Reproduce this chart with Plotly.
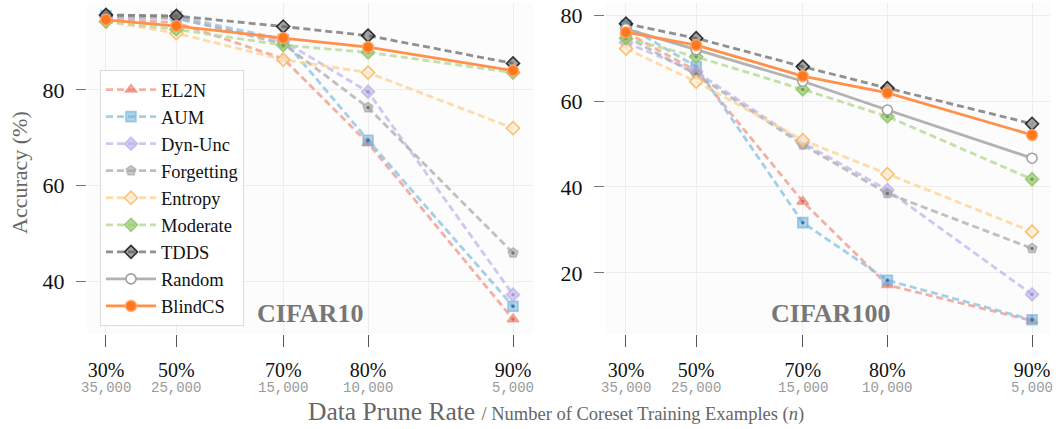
import math
import plotly.graph_objects as go

rates = ["30%", "50%", "70%", "80%", "90%"]
n_examples = [35000, 25000, 15000, 10000, 5000]
n_labels = ["35,000", "25,000", "15,000", "10,000", "5,000"]

methods = ["EL2N", "AUM", "Dyn-Unc", "Forgetting", "Entropy", "Moderate", "TDDS", "Random", "BlindCS"]

cifar10 = {
    "EL2N":       [94.8, 94.0, 86.5, 68.9, 32.2],
    "AUM":        [95.5, 95.3, 90.5, 69.5, 34.9],
    "Dyn-Unc":    [95.2, 94.8, 90.2, 79.6, 37.3],
    "Forgetting": [95.3, 95.0, 89.6, 76.3, 46.0],
    "Entropy":    [94.3, 91.8, 86.3, 83.6, 72.0],
    "Moderate":   [94.2, 92.6, 89.3, 87.8, 83.6],
    "TDDS":       [95.6, 95.4, 93.2, 91.3, 85.5],
    "BlindCS":    [94.6, 93.3, 90.8, 88.9, 84.0],
}
cifar100 = {
    "EL2N":       [76.0, 67.0, 36.6, 17.2, 8.9],
    "AUM":        [77.6, 68.0, 31.7, 18.3, 9.1],
    "Dyn-Unc":    [73.6, 66.8, 50.3, 39.3, 15.0],
    "Forgetting": [75.0, 66.2, 49.8, 38.5, 25.7],
    "Entropy":    [72.2, 64.5, 50.9, 43.0, 29.6],
    "Moderate":   [74.6, 70.3, 62.7, 56.4, 41.8],
    "TDDS":       [78.0, 74.6, 68.0, 63.0, 54.7],
    "Random":     [76.8, 71.9, 64.6, 57.9, 46.7],
    "BlindCS":    [76.0, 73.0, 65.8, 61.9, 52.1],
}

# line colour, symbol, dash, marker fill, marker edge, inner dot colour
styles = {
    "EL2N":       dict(line="rgba(240,150,135,0.75)", symbol="triangle-up", dash="7px,4px",
                       fill="rgba(236,120,105,0.55)", edge="rgba(236,120,105,0.6)", dot="rgba(220,90,80,0.8)", size=10),
    "AUM":        dict(line="rgba(140,195,225,0.8)", symbol="square", dash="7px,4px",
                       fill="rgba(110,175,220,0.55)", edge="rgba(110,175,220,0.6)", dot="rgba(40,110,170,0.9)", size=10),
    "Dyn-Unc":    dict(line="rgba(195,185,235,0.8)", symbol="diamond", dash="7px,4px",
                       fill="rgba(185,172,232,0.6)", edge="rgba(185,172,232,0.7)", dot="rgba(150,135,210,0.8)", size=10),
    "Forgetting": dict(line="rgba(175,175,175,0.8)", symbol="pentagon", dash="7px,4px",
                       fill="rgba(165,165,165,0.6)", edge="rgba(165,165,165,0.7)", dot="rgba(110,110,110,0.9)", size=10),
    "Entropy":    dict(line="rgba(253,210,150,0.8)", symbol="diamond", dash="7px,4px",
                       fill="rgba(255,240,215,0.7)", edge="rgba(250,185,100,0.9)", dot=None, size=10),
    "Moderate":   dict(line="rgba(185,218,150,0.85)", symbol="diamond", dash="7px,4px",
                       fill="rgba(150,200,110,0.7)", edge="rgba(140,195,100,0.8)", dot="rgba(100,160,60,0.9)", size=10),
    "TDDS":       dict(line="rgba(125,125,125,0.85)", symbol="diamond", dash="7px,4px",
                       fill="rgba(90,90,90,0.55)", edge="rgba(30,30,30,0.9)", dot=None, size=10),
    "Random":     dict(line="rgba(178,178,178,1)", symbol="circle", dash="solid",
                       fill="rgba(255,255,255,1)", edge="rgba(160,160,160,1)", dot=None, size=10),
    "BlindCS":    dict(line="rgba(255,145,75,1)", symbol="circle", dash="solid",
                       fill="rgba(255,120,30,1)", edge="rgba(255,170,110,0.8)", dot=None, size=11),
}

fig = go.Figure()

for ax_i, data in enumerate([cifar10, cifar100]):
    xa = "x" if ax_i == 0 else "x2"
    ya = "y" if ax_i == 0 else "y2"
    for m in methods:
        st = styles[m]
        vals = data.get(m)
        show = ax_i == 0
        xs = n_examples if vals is not None else [None]
        ys = vals if vals is not None else [None]
        fig.add_trace(go.Scatter(
            x=xs, y=ys, name=m, mode="lines+markers", xaxis=xa, yaxis=ya,
            line=dict(color=st["line"], width=2.8, dash=st["dash"]),
            marker=dict(symbol=st["symbol"], size=st["size"], color=st["fill"],
                        line=dict(color=st["edge"], width=1.6)),
            showlegend=show, legendgroup=m))
        if vals is not None and st["dot"] is not None:
            fig.add_trace(go.Scatter(
                x=n_examples, y=vals, mode="markers", xaxis=xa, yaxis=ya,
                marker=dict(symbol="circle", size=3.5, color=st["dot"]),
                showlegend=False, hoverinfo="skip", legendgroup=m))

L, R, T, B = 87, 6, 3, 95
W, H = 1056, 429
pw = W - L - R
ph = H - T - B


def px_x(x):
    return (x - L) / pw


def px_y(y):
    return (H - B - y) / ph


xcommon = dict(type="log", tickvals=n_examples, ticktext=rates, showgrid=True,
               gridcolor="#ededed", gridwidth=1, zeroline=False, ticks="outside",
               ticklen=12, tickcolor="#555", tickwidth=1, ticklabelstandoff=6,
               tickfont=dict(family="Liberation Serif", size=20, color="#111"),
               showline=False, automargin=False)
ycommon = dict(showgrid=True, gridcolor="#ededed", zeroline=False, ticks="outside",
               ticklen=10, tickcolor="#777", tickwidth=1, ticklabelstandoff=7,
               tickfont=dict(family="Liberation Serif", size=22, color="#111"),
               showline=False, automargin=False)

center = dict(xanchor="center", yanchor="middle", showarrow=False, xref="paper", yref="paper")
annotations = [
    dict(text="<b>CIFAR10</b>", x=px_x(310), y=px_y(313),
         font=dict(family="Liberation Serif", size=26, color="#777"), **center),
    dict(text="<b>CIFAR100</b>", x=px_x(830), y=px_y(313),
         font=dict(family="Liberation Serif", size=26, color="#777"), **center),
    dict(text="Data Prune Rate <span style='font-size:18.5px'>/ Number of Coreset Training Examples (<i>n</i>)</span>",
         x=px_x(556), y=px_y(411),
         font=dict(family="Liberation Serif", size=25.5, color="#666"), **center),
    dict(text="Accuracy (%)", x=px_x(20), y=px_y(173), textangle=-90,
         font=dict(family="Liberation Serif", size=22, color="#666"), **center),
]
for xr in ["x", "x2"]:
    for n, lab in zip(n_examples, n_labels):
        annotations.append(dict(text=lab, x=math.log10(n), xref=xr, y=px_y(388), yref="paper",
                                xanchor="center", yanchor="middle", showarrow=False,
                                font=dict(family="Liberation Mono", size=14, color="#9a9a9a")))

fig.update_layout(
    width=W, height=H,
    margin=dict(l=L, r=R, t=T, b=B, autoexpand=False),
    paper_bgcolor="white", plot_bgcolor="#fcfcfc",
    font=dict(family="Liberation Serif", color="#111"),
    xaxis=dict(domain=[0, px_x(533)], range=[4.5835, 3.6575], anchor="y", **xcommon),
    xaxis2=dict(domain=[px_x(605), px_x(1050)], range=[4.5877, 3.6616], anchor="y2", **xcommon),
    yaxis=dict(range=[29.1, 98.1], tickvals=[40, 60, 80], anchor="x", **ycommon),
    yaxis2=dict(range=[5.8, 82.8], tickvals=[20, 40, 60, 80], anchor="x2", **ycommon),
    legend=dict(x=px_x(100), y=px_y(70), xanchor="left", yanchor="top",
                bgcolor="rgba(255,255,255,0.85)", bordercolor="#dcdcdc", borderwidth=1,
                font=dict(family="Liberation Serif", size=18.5, color="#111"),
                tracegroupgap=0, itemwidth=50),
    annotations=annotations,
)

fig.write_html("out.html", config={"displayModeBar": False},
               post_script="document.body.style.margin='0';document.body.style.overflow='hidden';")
